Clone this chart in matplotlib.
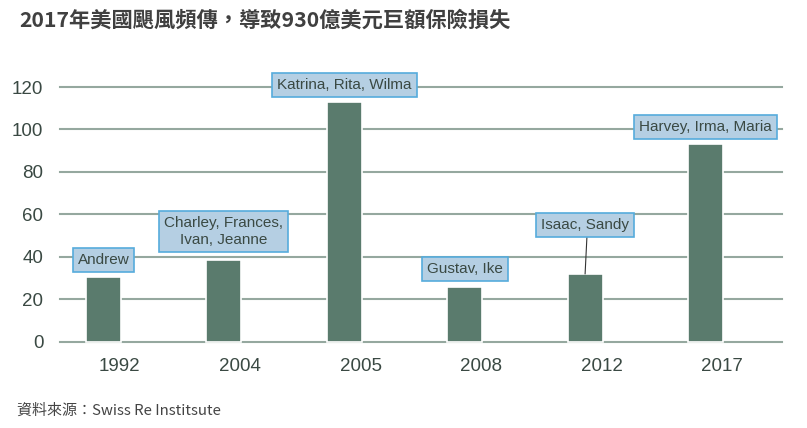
import matplotlib
matplotlib.use('Agg')
import matplotlib.pyplot as plt

years = ['1992', '2004', '2005', '2008', '2012', '2017']
losses = [30.6, 38.5, 113.1, 25.9, 32.0, 93.3]
storms = ['Andrew', 'Charley, Frances,\nIvan, Jeanne', 'Katrina, Rita, Wilma',
          'Gustav, Ike', 'Isaac, Sandy', 'Harvey, Irma, Maria']
label_y = [38.5, 52, 121, 34.3, 55.2, 101.2]
yticks = [0, 20, 40, 60, 80, 100, 120]

bar_c = '#5a7b6d'
grid_c = '#95a89f'
txt_c = '#3a4943'

fig = plt.figure(figsize=(8.07, 4.28), dpi=100)
ax = fig.add_axes([0.0743, 0.1967, 0.8947, 0.6099])

x = list(range(len(years)))
ax.bar(x, losses, width=0.29, color=bar_c, edgecolor='white', linewidth=1.2, zorder=3)

for v in yticks:
    ax.axhline(v, color=grid_c, lw=1.5, zorder=1, clip_on=False)

for i in x:
    # Isaac, Sandy has a leader line to its bar
    if i == 4:
        ax.plot([i + 0.015, i], [label_y[i] - 6, losses[i]], color='#333333', lw=0.8, zorder=4)
    ax.text(i, label_y[i], storms[i], ha='center', va='center', fontsize=11,
            family=['Liberation Sans', 'DejaVu Sans'], color=txt_c, zorder=5,
            linespacing=1.25, clip_on=False,
            bbox=dict(boxstyle='square,pad=0.33', fc='#b5cfe3', ec='#56acdc', lw=1.2))

ax.set_xlim(-0.361, 5.635)
ax.set_ylim(-1, 122)
ax.set_yticks(yticks)
# year labels sit a little to the right of the bars in the original
ax.set_xticks([i + 0.137 for i in x])
ax.set_xticklabels(years)
ax.tick_params(length=0, labelsize=13.5, labelcolor=txt_c)
ax.tick_params(axis='y', pad=12)
ax.tick_params(axis='x', pad=10)
for lab in ax.get_xticklabels() + ax.get_yticklabels():
    lab.set_family(['Liberation Sans', 'DejaVu Sans'])
for s in ax.spines.values():
    s.set_visible(False)

fig.text(0.024, 0.952, '2017年美國颶風頻傳，導致930億美元巨額保險損失', fontsize=15.3,
         fontweight='bold', color='#404040', va='center',
         family=['Noto Sans CJK TC', 'DejaVu Sans'])
fig.text(0.021, 0.04, '資料來源：Swiss Re Institsute', fontsize=10.8, color='#444444',
         va='center', family=['Noto Sans CJK TC', 'DejaVu Sans'])

fig.savefig('out.png', dpi=100)
